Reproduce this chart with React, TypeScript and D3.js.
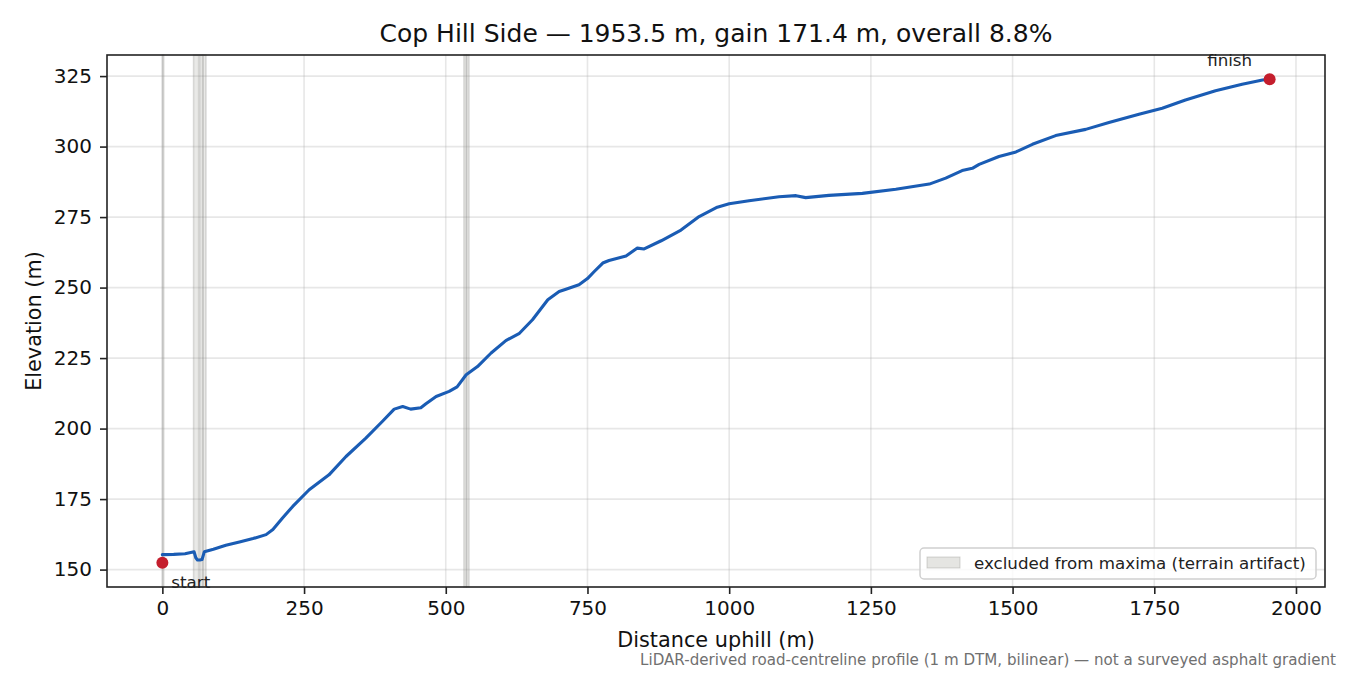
import * as d3 from "d3";
import { useEffect, useRef } from "react";

// profile: distance uphill (m) and elevation (m)
const distance = [
  0, 20, 40, 56, 59, 62, 66, 70, 74, 90, 112, 136, 160, 183, 195, 212, 230, 259, 294, 324,
  359, 388, 409, 424, 438, 456, 465, 483, 506, 520, 536, 556, 580, 606, 630, 653, 680, 700,
  712, 735, 750, 762, 777, 788, 818, 838, 850, 880, 915, 947, 979, 1000, 1035, 1088, 1118,
  1135, 1176, 1235, 1294, 1353, 1382, 1411, 1429, 1441, 1476, 1506, 1535, 1576, 1629, 1670,
  1723, 1764, 1805, 1858, 1905, 1941, 1953.5,
];
const elevation = [
  155.3, 155.4, 155.6, 156.3, 154.2, 153.4, 153.4, 153.6, 156.3, 157.2, 158.6, 159.8, 161.0,
  162.4, 164.2, 168.3, 172.4, 178.3, 183.6, 190.1, 196.6, 202.5, 206.9, 207.8, 206.9, 207.4,
  208.8, 211.4, 213.2, 214.8, 219.1, 222.0, 226.8, 231.2, 233.8, 238.6, 245.7, 248.6, 249.4,
  251.0, 253.2, 255.7, 258.7, 259.6, 261.2, 264.0, 263.7, 266.6, 270.4, 275.2, 278.5, 279.7,
  280.8, 282.2, 282.6, 281.9, 282.7, 283.4, 284.9, 286.7, 288.8, 291.5, 292.3, 293.7, 296.5,
  298.1, 300.8, 303.9, 306.1, 308.5, 311.5, 313.6, 316.5, 319.8, 322.1, 323.6, 323.9,
];
const excludedStart = [0, 55, 66, 72, 532, 537];
const excludedEnd = [2.5, 64, 71, 77, 536, 541];
const startPoint = [0, 152.4];
const finishPoint = [1953.5, 323.9];
const xTicks = [0, 250, 500, 750, 1000, 1250, 1500, 1750, 2000];
const yTicks = [150, 175, 200, 225, 250, 275, 300, 325];

const title = "Cop Hill Side \u2014 1953.5 m, gain 171.4 m, overall 8.8%";
const footnote =
  "LiDAR-derived road-centreline profile (1 m DTM, bilinear) \u2014 not a surveyed asphalt gradient";

export default function App() {
  const ref = useRef<SVGSVGElement>(null);

  useEffect(() => {
    if (!ref.current) return;
    const el = ref.current;
    d3.select(el).selectAll("*").remove();

    const W = 1350;
    const H = 675;
    const margin = { top: 55, right: 25, bottom: 88, left: 107 };
    const w = W - margin.left - margin.right;
    const h = H - margin.top - margin.bottom;
    const font = "DejaVu Sans, Verdana, sans-serif";

    const svg = d3.select(el).attr("viewBox", `0 0 ${W} ${H}`).attr("font-family", font);
    svg.append("rect").attr("width", W).attr("height", H).attr("fill", "#fff");

    const xPad = (1953.5 - 0) * 0.05;
    const x = d3.scaleLinear().domain([0 - xPad, 1953.5 + xPad]).range([0, w]);
    const yMin = 152.4;
    const yMax = 323.9;
    const yPad = (yMax - yMin) * 0.05;
    const y = d3.scaleLinear().domain([yMin - yPad, yMax + yPad]).range([h, 0]);

    const g = svg.append("g").attr("transform", `translate(${margin.left},${margin.top})`);

    // grid
    g.selectAll(".gx")
      .data(xTicks)
      .join("line")
      .attr("x1", d => x(d))
      .attr("x2", d => x(d))
      .attr("y1", 0)
      .attr("y2", h)
      .attr("stroke", "#b0b0b0")
      .attr("stroke-opacity", 0.3)
      .attr("stroke-width", 1.6);
    g.selectAll(".gy")
      .data(yTicks)
      .join("line")
      .attr("x1", 0)
      .attr("x2", w)
      .attr("y1", d => y(d))
      .attr("y2", d => y(d))
      .attr("stroke", "#b0b0b0")
      .attr("stroke-opacity", 0.3)
      .attr("stroke-width", 1.6);

    // excluded spans
    g.selectAll(".span")
      .data(excludedStart)
      .join("rect")
      .attr("x", d => x(d))
      .attr("width", (d, i) => x(excludedEnd[i]) - x(d))
      .attr("y", 0)
      .attr("height", h)
      .attr("fill", "#a8a8a0")
      .attr("fill-opacity", 0.25)
      .attr("stroke", "#8a8a84")
      .attr("stroke-opacity", 0.28)
      .attr("stroke-width", 1.5);

    // profile
    const pts = distance.map((d, i) => [d, elevation[i]] as [number, number]);
    const line = d3
      .line<[number, number]>()
      .x(d => x(d[0]))
      .y(d => y(d[1]));
    g.append("path")
      .datum(pts)
      .attr("d", line)
      .attr("fill", "none")
      .attr("stroke", "#1a5cb4")
      .attr("stroke-width", 3.1)
      .attr("stroke-linejoin", "round")
      .attr("stroke-linecap", "round");

    // start / finish markers
    [startPoint, finishPoint].forEach(p => {
      g.append("circle")
        .attr("cx", x(p[0]))
        .attr("cy", y(p[1]))
        .attr("r", 6)
        .attr("fill", "#c41e2d");
    });
    g.append("text")
      .attr("x", x(startPoint[0]) + 9)
      .attr("y", y(startPoint[1]) + 25)
      .attr("font-size", 16.7)
      .attr("fill", "#222")
      .text("start");
    g.append("text")
      .attr("x", x(finishPoint[0]) - 40)
      .attr("y", y(finishPoint[1]) - 13)
      .attr("text-anchor", "middle")
      .attr("font-size", 16.7)
      .attr("fill", "#222")
      .text("finish");

    // frame
    g.append("rect")
      .attr("width", w)
      .attr("height", h)
      .attr("fill", "none")
      .attr("stroke", "#222")
      .attr("stroke-width", 1.6);

    // axes
    const xAxis = g
      .append("g")
      .attr("transform", `translate(0,${h})`)
      .call(d3.axisBottom(x).tickValues(xTicks).tickSize(7).tickPadding(7).tickFormat(d3.format("d")));
    const yAxis = g
      .append("g")
      .call(d3.axisLeft(y).tickValues(yTicks).tickSize(7).tickPadding(8).tickFormat(d3.format("d")));
    [xAxis, yAxis].forEach(a => {
      a.select(".domain").remove();
      a.selectAll(".tick line").attr("stroke", "#222").attr("stroke-width", 1.6);
      a.selectAll(".tick text")
        .attr("fill", "#111")
        .attr("font-size", 20)
        .attr("font-family", font);
    });

    // legend
    const lg = g.append("g").attr("transform", `translate(${w - 405},${h - 39})`);
    lg.append("rect")
      .attr("width", 396)
      .attr("height", 31)
      .attr("rx", 4)
      .attr("fill", "#fff")
      .attr("fill-opacity", 0.8)
      .attr("stroke", "#d0d0d0")
      .attr("stroke-width", 1.5);
    lg.append("rect")
      .attr("x", 7)
      .attr("y", 9)
      .attr("width", 33)
      .attr("height", 11)
      .attr("fill", "#a8a8a0")
      .attr("fill-opacity", 0.3)
      .attr("stroke", "#8a8a84")
      .attr("stroke-opacity", 0.35);
    lg.append("text")
      .attr("x", 54)
      .attr("y", 21)
      .attr("font-size", 16.7)
      .attr("fill", "#222")
      .text("excluded from maxima (terrain artifact)");

    // titles
    svg
      .append("text")
      .attr("x", margin.left + w / 2)
      .attr("y", 42)
      .attr("text-anchor", "middle")
      .attr("font-size", 25)
      .attr("fill", "#111")
      .text(title);
    svg
      .append("text")
      .attr("x", margin.left + w / 2)
      .attr("y", 647)
      .attr("text-anchor", "middle")
      .attr("font-size", 20.8)
      .attr("fill", "#111")
      .text("Distance uphill (m)");
    svg
      .append("text")
      .attr("transform", `translate(41,${margin.top + h / 2}) rotate(-90)`)
      .attr("text-anchor", "middle")
      .attr("font-size", 20.8)
      .attr("fill", "#111")
      .text("Elevation (m)");
    svg
      .append("text")
      .attr("x", 1336)
      .attr("y", 665)
      .attr("text-anchor", "end")
      .attr("font-size", 15.1)
      .attr("fill", "#707070")
      .text(footnote);
  }, []);

  return (
    <div style={{ position: "absolute", left: 0, top: 0, width: 1350, height: 675 }}>
      <svg ref={ref} width={1350} height={675} style={{ display: "block" }} />
    </div>
  );
}
